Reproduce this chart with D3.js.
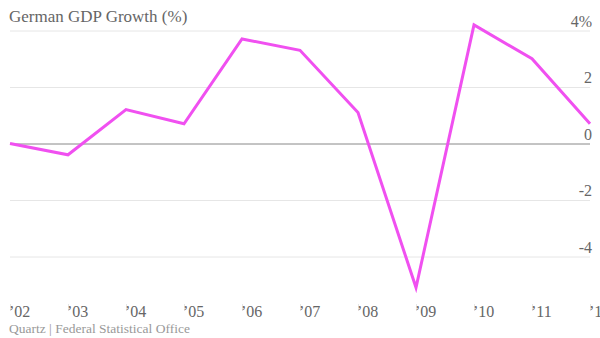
<!DOCTYPE html>
<html><head><meta charset="utf-8">
<script src="https://cdn.jsdelivr.net/npm/d3@7"></script>
<style>body{margin:0;background:#fff}svg{display:block}</style>
</head><body>
<script>
const years = [2002,2003,2004,2005,2006,2007,2008,2009,2010,2011,2012];
const growth = [0.0,-0.4,1.2,0.7,3.7,3.3,1.1,-5.1,4.2,3.0,0.7];
const yTicks = [-4,-2,0,2,4];
const xTickLabels = ["’02","’03","’04","’05","’06","’07","’08","’09","’10","’11","’12"];
const title = "German GDP Growth (%)";
const source = "Quartz | Federal Statistical Office";

const W=600,H=338;
const svg=d3.select("body").append("svg").attr("width",W).attr("height",H);
const font="'Liberation Serif', serif";
const x=d3.scaleLinear().domain([2002,2012]).range([10,590]);
const y=d3.scaleLinear().domain([-4,4]).range([256.5,30.5]);

// gridlines
svg.append("g").selectAll("line").data(yTicks).join("line")
 .attr("x1",10).attr("x2",590)
 .attr("y1",d=>y(d)+0.5).attr("y2",d=>y(d)+0.5)
 .attr("stroke",d=>d===0?"#888":"#e6e6e6").attr("stroke-width",1);
svg.append("g").selectAll("text").data(yTicks).join("text")
 .attr("x",592).attr("y",d=>y(d)-4)
 .attr("text-anchor","end").attr("font-family",font).attr("font-size",16).attr("fill","#666")
 .text(d=>d===4?"4%":String(d));

// x axis ticks
const xa=svg.append("g");
xa.selectAll("line").data(years).join("line")
 .attr("x1",d=>x(d)+0.5).attr("x2",d=>x(d)+0.5).attr("y1",304).attr("y2",311)
 .attr("stroke","#e6e6e6");
xa.selectAll("text").data(years).join("text")
 .attr("x",d=>x(d)-1).attr("y",317)
 .attr("font-family",font).attr("font-size",16).attr("fill","#666")
 .text((d,i)=>xTickLabels[i]);

// line
svg.append("path").datum(growth)
 .attr("d",d3.line().x((d,i)=>x(years[i])).y(d=>y(d)))
 .attr("fill","none").attr("stroke","#f050f0").attr("stroke-width",3).attr("stroke-linejoin","miter");

svg.append("text").attr("x",9).attr("y",22).attr("font-family",font).attr("font-size",17).attr("fill","#666").text(title);
svg.append("text").attr("x",9).attr("y",333).attr("font-family",font).attr("font-size",13.5).attr("fill","#999").text(source);
</script>
</body></html>
